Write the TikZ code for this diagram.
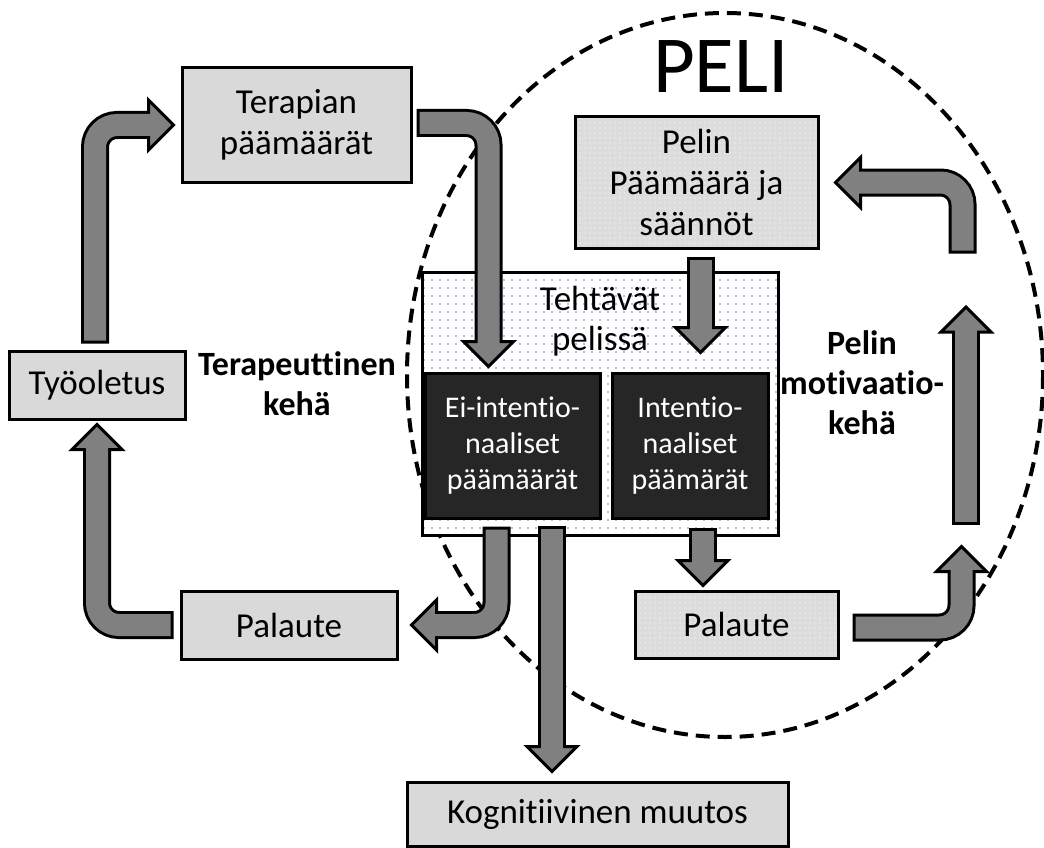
\documentclass[tikz,border=0pt]{standalone}
\usepackage{fontspec}
\setmainfont[Ligatures=NoCommon]{Carlito}
\usetikzlibrary{positioning, calc, patterns.meta}

\definecolor{laatikkoharmaa}{HTML}{D9D9D9}
\definecolor{vaaleaharmaa}{HTML}{DCDCDC}
\definecolor{tumma}{HTML}{262626}
\definecolor{nuoliharmaa}{HTML}{808080}
\definecolor{pistevari}{HTML}{8070C0}

% block arrow: path up to the tip, tip, direction of the tip
\newcommand{\nuoli}[3]{%
  \draw[line width=28pt, rounded corners=22pt, shorten <=-3pt, shorten >=26pt] #1 (#2);
  \draw[line width=3pt, fill=nuoliharmaa, line join=miter, shift={(#2)}, rotate=#3]
    (-2,0) -- (-27,25) -- (-27,-25) -- cycle;
  \draw[line width=22pt, nuoliharmaa, rounded corners=22pt, shorten >=24pt] #1 (#2);
}

\begin{document}
\begin{tikzpicture}[x=1pt, y=-1pt,
    laatikko/.style={draw, rectangle, line width=3pt, fill=laatikkoharmaa, align=center, inner sep=0pt, font=\fontsize{35}{41}\selectfont},
    tummalaatikko/.style={laatikko, fill=tumma, text=white, font=\fontsize{30}{36}\selectfont},
    pistelaatikko/.style={laatikko, preaction={fill=vaaleaharmaa}, pattern={Dots[distance=5pt, radius=0.7pt]}, pattern color=white},
    kehateksti/.style={align=center, inner sep=0pt, font=\fontsize{34}{40}\selectfont\bfseries}]
    \useasboundingbox (0,0) rectangle (1044,848);

    % Game circle
    \draw[line width=4pt, dash pattern=on 14pt off 8pt] (725,375) ellipse [x radius=318, y radius=362];

    % Nodes
    \node[laatikko, minimum width=229pt, minimum height=114pt] (terapia) at (296.5,125) {Terapian\\päämäärät};
    \node[laatikko, minimum width=176pt, minimum height=68pt] (tyooletus) at (97,385) {Työoletus};
    \node[laatikko, minimum width=216pt, minimum height=68pt] (palaute1) at (289,625) {Palaute};
    \node[pistelaatikko, minimum width=243pt, minimum height=131pt] (saannot) at (696.5,182.5) {Pelin\\Päämäärä ja\\säännöt};
    \node[laatikko, preaction={fill=white}, pattern={Dots[distance=8pt, radius=0.8pt]}, pattern color=pistevari, minimum width=356pt, minimum height=263pt] (tehtavat) at (600,403.5) {};
    \node[tummalaatikko, minimum width=175pt, minimum height=145pt] (eiint) at (512.5,445.5) {Ei-intentio-\\naaliset\\päämäärät};
    \node[tummalaatikko, minimum width=156pt, minimum height=145pt, right=9pt of eiint] (int) {Intentio-\\naaliset\\päämärät};
    \node[pistelaatikko, minimum width=203pt, minimum height=67pt] (palaute2) at (736.5,624.5) {Palaute};
    \node[laatikko, minimum width=381pt, minimum height=64pt] (kognitio) at (597.5,814) {Kognitiivinen muutos};

    % Texts
    \node[anchor=north, align=center, inner sep=0pt, font=\fontsize{35}{40}\selectfont] (tehtavatteksti) at ($(tehtavat.north)+(0,15)$) {Tehtävät\\pelissä};
    \node[inner sep=0pt, font=\fontsize{81}{84}\selectfont] (peli) at (721,67) {PELI};
    \node[kehateksti] (terkeha) at (297,384) {Terapeuttinen\\kehä};
    \node[kehateksti] (motkeha) at (862,383) {Pelin\\motivaatio-\\kehä};

    \coordinate (motala) at (966,522);
    \coordinate (motyla) at (966,305);

    % Arrows
    \nuoli{($(tyooletus.north)+(-2,-9)$) |-}{[xshift=-5pt]terapia.west}{0}
    \nuoli{($(terapia.east)+(7,-2)$) -|}{$(eiint.north)+(-24,-3)$}{-90}
    \nuoli{($(saannot.south)+(4,10)$) --}{$(saannot.south)+(4,105)$}{-90}
    \nuoli{($(int.south)+(13,11)$) --}{$(int.south)+(13,68)$}{-90}
    \nuoli{($(palaute2.east)+(16,3)$) -|}{$(palaute2.east)+(122,-80)$}{90}
    \nuoli{(motala) --}{motyla}{90}
    \nuoli{($(saannot.east)+(143,68)$) |-}{[xshift=14pt]saannot.east}{180}
    \nuoli{($(eiint.south)+(-16,10)$) |-}{[xshift=11pt]palaute1.east}{180}
    \nuoli{($(tehtavat.south)+(-48,-8)$) --}{$(tehtavat.south)+(-48,237)$}{-90}
    \nuoli{([xshift=-9pt]palaute1.west) -|}{[yshift=-2pt]tyooletus.south}{90}
\end{tikzpicture}
\end{document}
